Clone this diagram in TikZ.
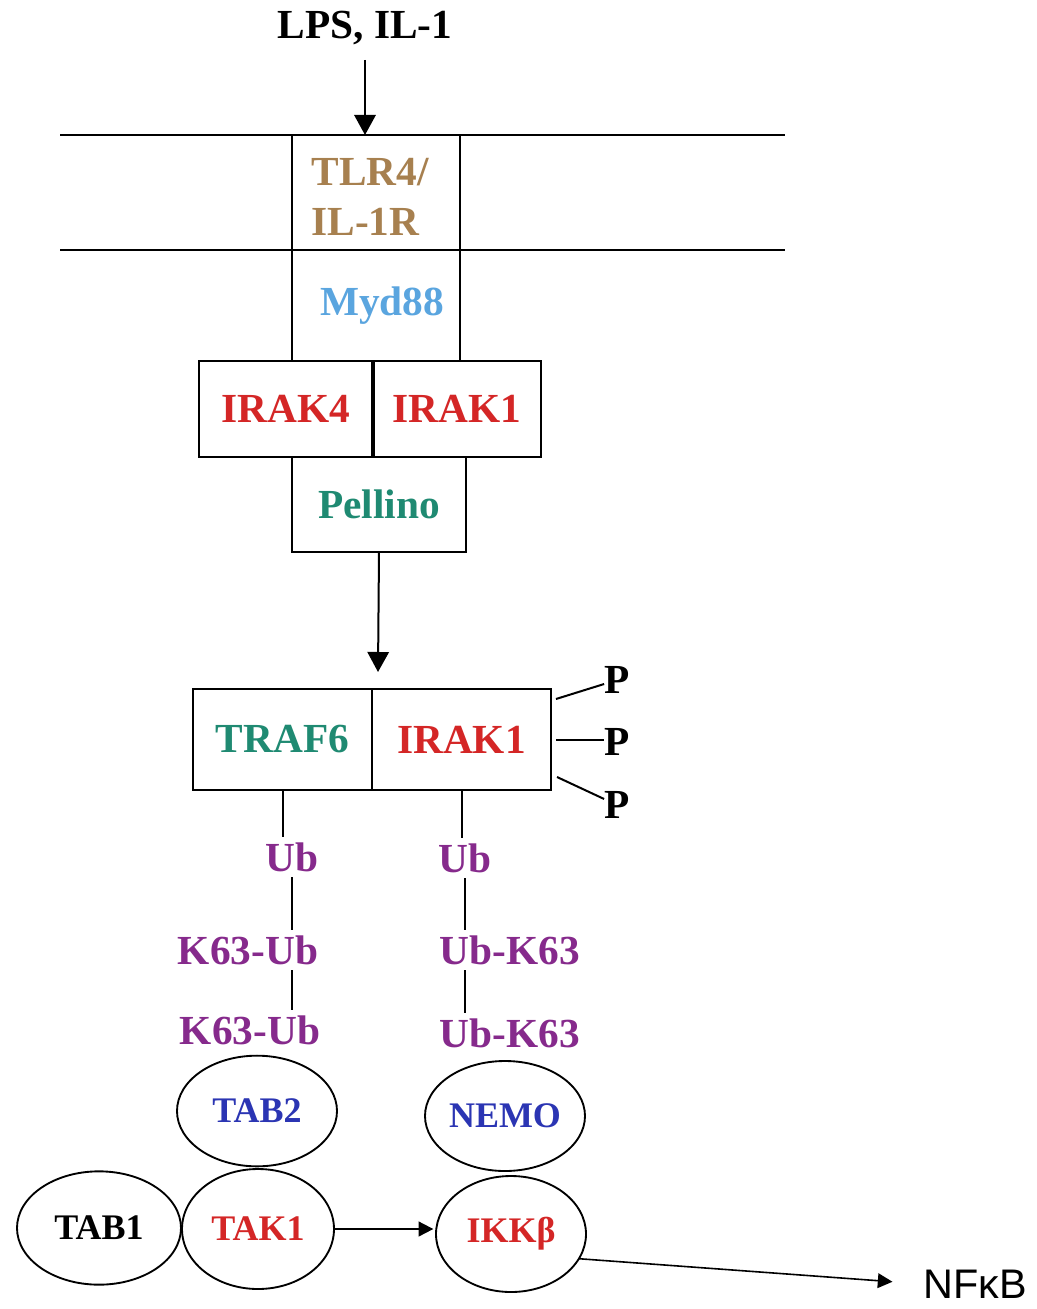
\documentclass[tikz,border=0pt]{standalone}
\usepackage{fontspec}
\setmainfont{Liberation Serif}
\newfontfamily\arialfont{Liberation Sans}
\usepackage{tikz}
\usetikzlibrary{shapes.geometric, arrows.meta, positioning}

\definecolor{rcptcol}{RGB}{167,128,79}
\definecolor{mydcol}{RGB}{90,165,223}
\definecolor{irakcol}{RGB}{212,38,38}
\definecolor{tealcol}{RGB}{31,138,114}
\definecolor{ubcol}{RGB}{134,42,140}
\definecolor{bluecol}{RGB}{43,53,179}

\begin{document}
\begin{tikzpicture}[
  x=0.75pt, y=-0.75pt,
  >={Triangle[length=15pt, width=16pt]},
  lbl/.style={font=\fontsize{31}{37}\selectfont\bfseries, inner sep=0pt, align=center},
  ublbl/.style={lbl, text=ubcol, inner sep=4pt},
  boxnode/.style={lbl, draw, line width=1.5pt, rectangle, outer sep=0pt},
  ovalnode/.style={draw, ellipse, line width=1.4pt, inner sep=0pt, outer sep=0pt, font=\fontsize{27}{32}\selectfont\bfseries},
  link/.style={line width=1.5pt, black},
  flow/.style={->, line width=1.5pt, black},
  smallflow/.style={-{Triangle[length=11pt, width=11pt]}, line width=1.5pt, black}
]
\useasboundingbox[fill=white] (0,0) rectangle (1036,1309);

% membrane
\coordinate (MemTL) at (60,135);
\coordinate (MemTR) at (785,135);
\coordinate (MemBL) at (60,250);
\coordinate (MemBR) at (785,250);
\draw[link] (MemTL) -- (MemTR);
\draw[link] (MemBL) -- (MemBR);

% nodes
\node[lbl] (Lps) at (365,28) {LPS, IL-1};
\node[boxnode, minimum width=126pt, minimum height=169.5pt] (Rcpt) at (376,248) {};
\node[lbl, align=left, text=rcptcol] (Tlr) at (370,197) {TLR4/\\IL-1R};
\node[lbl, text=mydcol] (Myd) at (382,306) {Myd88};

\node[boxnode, fill=white, text=irakcol, minimum width=130.5pt, minimum height=72pt] (IrakF) at (286,409) {IRAK4};
\node[boxnode, fill=white, text=irakcol, minimum width=126pt, minimum height=72pt, right=0pt of IrakF] (IrakO) {IRAK1};
\draw[line width=3pt] (IrakF.north east) -- (IrakF.south east);
\node[boxnode, text=tealcol, minimum width=130.5pt, minimum height=71.25pt] (Pell) at (379,504.5) {Pellino};

\node[boxnode, text=tealcol, minimum width=134.25pt, minimum height=75.75pt] (Traf) at (282.5,739.5) {TRAF6};
\node[boxnode, text=irakcol, minimum width=134.25pt, minimum height=75.75pt, right=0pt of Traf] (IrakB) {IRAK1};

% phosphates
\node[lbl] (PhA) at (617,680) {P};
\node[lbl] (PhB) at (617,742) {P};
\node[lbl] (PhC) at (617,805) {P};
\coordinate (PStartA) at (556,699);
\coordinate (PStartB) at (556,740);
\coordinate (PStartC) at (557,777);

% ubiquitin chains
\node[ublbl] (UbL) at (292,857) {Ub};
\node[ublbl] (KL1) at (248,950) {K63-Ub};
\node[ublbl] (KL2) at (250,1030) {K63-Ub};
\node[ublbl] (UbR) at (465,858) {Ub};
\node[ublbl] (KR1) at (510,950) {Ub-K63};
\node[ublbl] (KR2) at (510,1033) {Ub-K63};

% complexes
\node[ovalnode, text=bluecol, minimum width=120pt, minimum height=83pt] (Tab2) at (257,1111) {TAB2};
\node[ovalnode, text=bluecol, minimum width=120pt, minimum height=82.5pt] (Nemo) at (505,1116) {NEMO};
\node[ovalnode, minimum width=123pt, minimum height=85pt] (Tab1) at (99,1228) {TAB1};
\node[ovalnode, text=irakcol, minimum width=114pt, minimum height=90pt] (Tak) at (258,1229) {TAK1};
\node[ovalnode, text=irakcol, minimum width=112.5pt, minimum height=87pt] (Ikk) at (511,1234) {IKKβ};
\node[font=\arialfont\fontsize{31}{37}\selectfont, inner sep=0pt] (NFkB) at (975,1284) {NFκB};

% flows
\coordinate (TrafIn) at (378,672);
\draw[flow] (Lps.south |- 0,60) -- (Lps.south |- MemTL);
\draw[flow] (Pell.south) -- (TrafIn);
\draw[link] (PStartA) -- (PhA);
\draw[link] (PStartB) -- (PStartB -| PhB.west);
\draw[link] (PStartC) -- (PhC);

\draw[link] (Traf.south) -- (Traf.south |- UbL.north);
\draw[link] (UbL.south) -- (UbL.south |- KL1.north);
\draw[link] (KL1.south -| UbL) -- (KL2.north -| UbL);
\draw[link] (IrakB.south) -- (IrakB.south |- UbR.north);
\draw[link] (UbR.south) -- (UbR.south |- KR1.north);
\draw[link] (KR1.south -| UbR) -- (KR2.north -| UbR);

\draw[smallflow, shorten >=2pt] (Tak.east) -- (Tak.east -| Ikk.west);
\draw[smallflow, line width=1.2pt, shorten >=23pt] (Ikk.-20) -- (NFkB.west);

\end{tikzpicture}
\end{document}
